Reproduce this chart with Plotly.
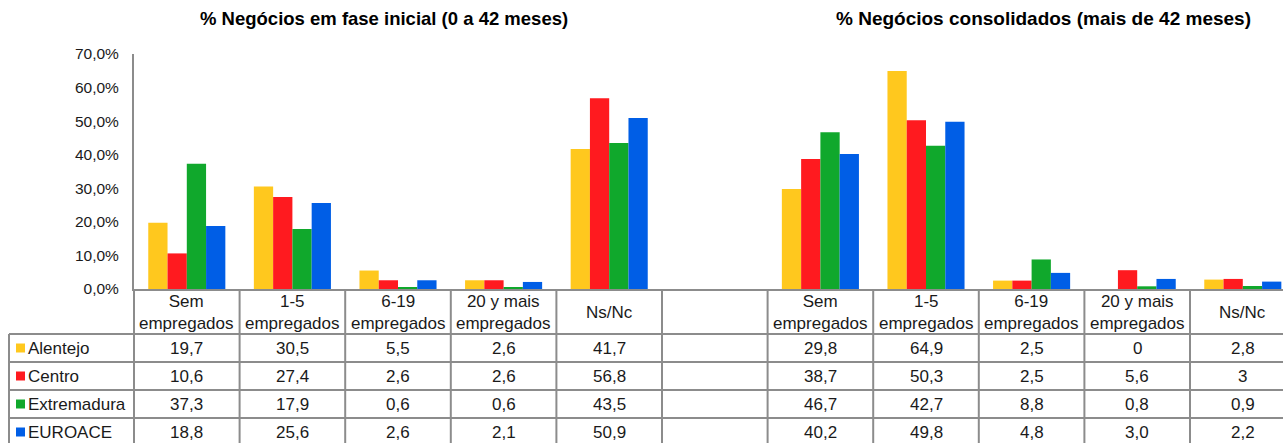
import plotly.graph_objects as go

# ---------------- data ----------------
categories = ["Sem<br>empregados", "1-5<br>empregados", "6-19<br>empregados",
              "20 y mais<br>empregados", "Ns/Nc"]
regions = ["Alentejo", "Centro", "Extremadura", "EUROACE"]
colors = ["#FFC81E", "#FF1A1F", "#10A82C", "#005EE6"]

alentejo_inicial = [19.7, 30.5, 5.5, 2.6, 41.7]
centro_inicial = [10.6, 27.4, 2.6, 2.6, 56.8]
extremadura_inicial = [37.3, 17.9, 0.6, 0.6, 43.5]
euroace_inicial = [18.8, 25.6, 2.6, 2.1, 50.9]

alentejo_consolidado = [29.8, 64.9, 2.5, 0, 2.8]
centro_consolidado = [38.7, 50.3, 2.5, 5.6, 3]
extremadura_consolidado = [46.7, 42.7, 8.8, 0.8, 0.9]
euroace_consolidado = [40.2, 49.8, 4.8, 3.0, 2.2]

title_inicial = "% Negócios em fase inicial (0 a 42 meses)"
title_consolidado = "% Negócios consolidados (mais de 42 meses)"

inicial = [alentejo_inicial, centro_inicial, extremadura_inicial, euroace_inicial]
consolidado = [alentejo_consolidado, centro_consolidado,
               extremadura_consolidado, euroace_consolidado]

# ---------------- layout geometry (page pixels) ----------------
PAGE_W, PAGE_H = 1283, 443
W, H = PAGE_W, PAGE_H
PLOT_L, PLOT_T, PLOT_B = 134, 54, 289          # page pixel positions of plot area
L, T, B, R = PLOT_L, PLOT_T, H - PLOT_B, 0
SLOT = 105.6
XR = [-0.5, -0.5 + (PAGE_W - PLOT_L) / SLOT]
FONT = "Liberation Sans, Arial, sans-serif"
GRID = "#8c8c8c"
TXT = "#1a1a1a"

n = len(categories)
pos_left = list(range(n))
pos_right = list(range(n + 1, 2 * n + 1))
all_pos = pos_left + pos_right


def xd2p(v):  # data x -> paper x
    return (v - XR[0]) / (XR[1] - XR[0])


def xpx2p(px):  # page pixel x -> paper x
    return (px - PLOT_L) / (PAGE_W - PLOT_L)


def ypx2p(py):  # page pixel y -> paper y
    return (PLOT_B - py) / (PLOT_B - PLOT_T)


fig = go.Figure()
for name, col, a, b in zip(regions, colors, inicial, consolidado):
    fig.add_trace(go.Bar(
        x=all_pos, y=a + b, name=name, marker_color=col,
        marker_line_width=0, showlegend=False,
    ))

shapes = []
annotations = []

# table row lines (page pixel rows)
header_top, header_bot, row_h = 289, 334, 28
row_lines = [header_bot + i * row_h for i in range(len(regions))]
for yl in row_lines:
    shapes.append(dict(type="line", xref="paper", yref="paper",
                       x0=xpx2p(9), x1=1.0, y0=ypx2p(yl), y1=ypx2p(yl),
                       line=dict(color=GRID, width=2)))
# vertical lines at category boundaries
for k in range(2 * n + 1):
    xv = xd2p(k - 0.5)
    if xv > 1:
        continue
    shapes.append(dict(type="line", xref="paper", yref="paper",
                       x0=xv, x1=xv, y0=ypx2p(header_top), y1=ypx2p(PAGE_H + 5),
                       line=dict(color=GRID, width=2)))
# left border of row-label column
shapes.append(dict(type="line", xref="paper", yref="paper",
                   x0=xpx2p(9), x1=xpx2p(9), y0=ypx2p(header_bot), y1=ypx2p(PAGE_H + 5),
                   line=dict(color=GRID, width=2)))

# header labels
for i, c in enumerate(categories):
    for p in (pos_left[i], pos_right[i]):
        annotations.append(dict(x=p, y=ypx2p((header_top + header_bot) / 2 + 1),
                                xref="x", yref="paper", text=c, showarrow=False,
                                font=dict(family=FONT, size=17, color=TXT),
                                align="center", xanchor="center", yanchor="middle"))


def fmt(v):
    return str(v).replace(".", ",")


# data rows
for r, (name, col, a, b) in enumerate(zip(regions, colors, inicial, consolidado)):
    yc = header_bot + row_h * r + row_h / 2
    shapes.append(dict(type="rect", xref="paper", yref="paper",
                       x0=xpx2p(16), x1=xpx2p(25), y0=ypx2p(yc - 4.5), y1=ypx2p(yc + 4.5),
                       fillcolor=col, line=dict(width=0)))
    annotations.append(dict(x=xpx2p(26), y=ypx2p(yc), xref="paper", yref="paper",
                            text=name, showarrow=False, xanchor="left", yanchor="middle",
                            font=dict(family=FONT, size=17, color=TXT)))
    for i in range(n):
        for p, v in ((pos_left[i], a[i]), (pos_right[i], b[i])):
            annotations.append(dict(x=p, y=ypx2p(yc), xref="x", yref="paper",
                                    text=fmt(v), showarrow=False,
                                    xanchor="center", yanchor="middle",
                                    font=dict(family=FONT, size=17, color=TXT)))

# titles
annotations.append(dict(x=xpx2p(384), y=ypx2p(18), xref="paper", yref="paper",
                        text="<b>" + title_inicial + "</b>", showarrow=False,
                        xanchor="center", yanchor="middle",
                        font=dict(family=FONT, size=18.5, color="#000000")))
annotations.append(dict(x=xpx2p(1043), y=ypx2p(18), xref="paper", yref="paper",
                        text="<b>" + title_consolidado + "</b>", showarrow=False,
                        xanchor="center", yanchor="middle",
                        font=dict(family=FONT, size=19, color="#000000")))

fig.update_layout(
    width=W, height=H,
    margin=dict(l=L, r=R, t=T, b=B, pad=0),
    paper_bgcolor="white", plot_bgcolor="white",
    barmode="group", bargap=0.27, bargroupgap=0,
    separators=", ",
    hovermode=False,
    shapes=shapes, annotations=annotations,
    font=dict(family=FONT, color=TXT),
    xaxis=dict(range=XR, showticklabels=False, showgrid=False, zeroline=False,
               showline=True, linecolor=GRID, linewidth=2, ticks="", fixedrange=True),
    yaxis=dict(range=[0, 70], dtick=10, tickformat=".1f", ticksuffix="%",
               showgrid=False, zeroline=False, showline=True, linecolor=GRID,
               linewidth=2, ticks="", ticklabelstandoff=10, fixedrange=True,
               tickfont=dict(family=FONT, size=15.5, color=TXT)),
)

fig.write_html(
    "out.html",
    config={"displayModeBar": False, "staticPlot": True},
    post_script="document.body.style.margin='0';document.body.style.overflow='hidden';",
)
